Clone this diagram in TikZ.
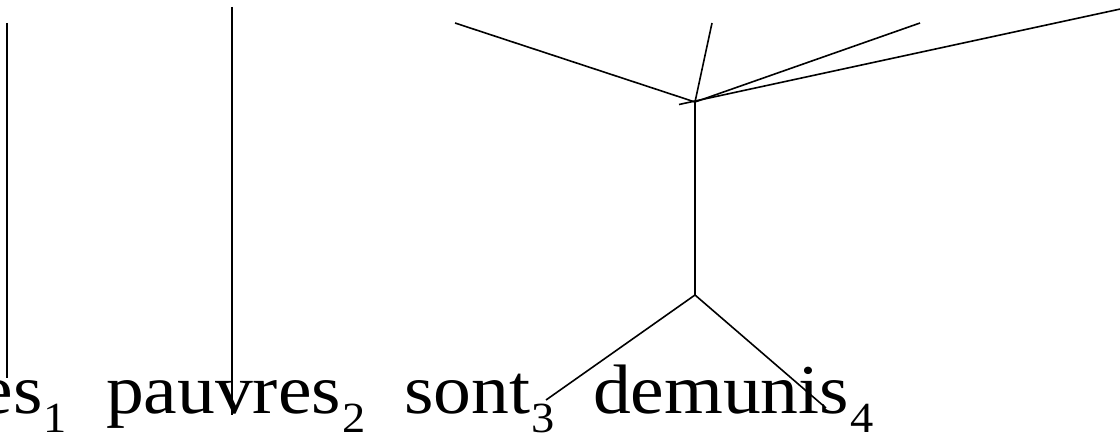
\documentclass[tikz,border=0pt]{standalone}
\usepackage{fontspec}
\setmainfont[FakeStretch=1.08]{Liberation Serif}
\newcommand{\wordsub}[2]{#1\kern1pt\raisebox{-19pt}{\fontsize{43}{43}\selectfont #2}}
\begin{document}
\begin{tikzpicture}[x=1pt,y=-1pt,
  word/.style={inner sep=0pt,outer sep=0pt,anchor=base west,font=\fontsize{70}{78}\selectfont},
  edge/.style={line width=1.6pt,line cap=butt}]
\useasboundingbox (0,0) rectangle (1120,436);
% words
\node[word] (w1) at (-20,413) {\wordsub{es}{1}};
\node[word] (w2) at (106,413) {\wordsub{pauvres}{2}};
\node[word] (w3) at (404,413) {\wordsub{sont}{3}};
\node[word] (w4) at (593,413) {\wordsub{demunis}{4}};
% points
\coordinate (a1) at (7,23);   \coordinate (a2) at (7,378);
\coordinate (b1) at (232,7);  \coordinate (b2) at (232,415);
\coordinate (j1) at (695,102);
\coordinate (j2) at (695,295);
\coordinate (t1) at (455,23);
\coordinate (t2) at (712,23);
\coordinate (t3) at (920,23);
\coordinate (l1) at (679,104.5);
\coordinate (l2) at (1125,8);
\coordinate (s3) at (546,400);
\coordinate (s4) at (826,408);
% edges
\draw[edge] (a1) -- (a2);
\draw[edge] (b1) -- (b2);
\draw[edge] (j1) -- (t1);
\draw[edge] (j1) -- (t2);
\draw[edge] (j1) -- (t3);
\draw[edge] (l1) -- (l2);
\draw[edge] (j1) -- (j2);
\draw[edge] (j2) -- (s3);
\draw[edge] (j2) -- (s4);
\end{tikzpicture}
\end{document}
